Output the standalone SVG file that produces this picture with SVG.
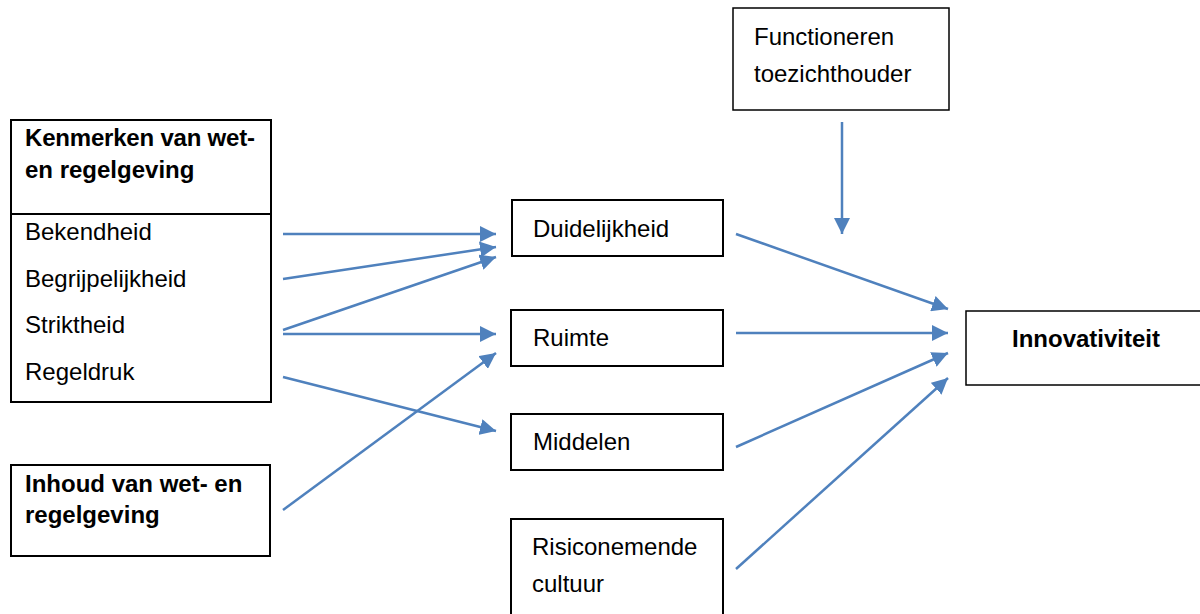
<svg xmlns="http://www.w3.org/2000/svg" width="1200" height="614" viewBox="0 0 1200 614">
<style>
.box{fill:#fff;stroke:#000;stroke-width:2}
.thin{stroke-width:1.5}
.t{font-family:"Liberation Sans",Arial,sans-serif;font-size:24px;fill:#000}
.b{font-weight:bold}
.c{stroke:#4F81BD;stroke-width:2.5;fill:none;marker-end:url(#ah)}
</style>
<defs>
<marker id="ah" markerUnits="userSpaceOnUse" markerWidth="17" markerHeight="16" refX="16" refY="8" orient="auto" viewBox="0 0 17 16">
<path d="M0,0 L16,8 L0,16 Z" fill="#4F81BD"/>
</marker>
</defs>
<rect width="1200" height="614" fill="#fff"/>
<g id="kenmerken">
<rect class="box" x="11" y="120" width="260" height="282"/>
<line x1="11" y1="214" x2="271" y2="214" stroke="#000" stroke-width="2"/>
<text class="t b" x="25" y="146" textLength="230">Kenmerken van wet-</text>
<text class="t b" x="25" y="178">en regelgeving</text>
<text class="t" x="25" y="240">Bekendheid</text>
<text class="t" x="25" y="287">Begrijpelijkheid</text>
<text class="t" x="25" y="333">Striktheid</text>
<text class="t" x="25" y="380">Regeldruk</text>
</g>
<g id="inhoud">
<rect class="box" x="11" y="465" width="259" height="91"/>
<text class="t b" x="25" y="492">Inhoud van wet- en</text>
<text class="t b" x="25" y="523">regelgeving</text>
</g>
<g id="functioneren">
<rect class="box thin" x="733" y="8" width="216" height="102"/>
<text class="t" x="754" y="45">Functioneren</text>
<text class="t" x="754" y="82">toezichthouder</text>
</g>
<g id="duidelijkheid">
<rect class="box" x="512" y="200" width="211" height="56"/>
<text class="t" x="533" y="237">Duidelijkheid</text>
</g>
<g id="ruimte">
<rect class="box" x="511" y="310" width="212" height="56"/>
<text class="t" x="533" y="346">Ruimte</text>
</g>
<g id="middelen">
<rect class="box" x="511" y="414" width="212" height="56"/>
<text class="t" x="533" y="450">Middelen</text>
</g>
<g id="risiconemende">
<rect class="box" x="511" y="519" width="212" height="100"/>
<text class="t" x="532" y="555">Risiconemende</text>
<text class="t" x="532" y="592">cultuur</text>
</g>
<g id="innovativiteit">
<rect class="box thin" x="966" y="311" width="240" height="74"/>
<text class="t b" x="1086" y="347" text-anchor="middle">Innovativiteit</text>
</g>
<g id="connectors">
<line class="c" x1="283" y1="234" x2="496" y2="234"/>
<line class="c" x1="283" y1="279" x2="496" y2="247"/>
<line class="c" x1="283" y1="330" x2="496" y2="257"/>
<line class="c" x1="283" y1="334" x2="496" y2="334"/>
<line class="c" x1="283" y1="377" x2="496" y2="431"/>
<line class="c" x1="283" y1="510" x2="496" y2="353"/>
<line class="c" x1="842" y1="122" x2="842" y2="234"/>
<line class="c" x1="736" y1="234" x2="948" y2="309"/>
<line class="c" x1="736" y1="333" x2="948" y2="333"/>
<line class="c" x1="736" y1="447" x2="948" y2="353"/>
<line class="c" x1="736" y1="569" x2="948" y2="378"/>
</g>
</svg>
